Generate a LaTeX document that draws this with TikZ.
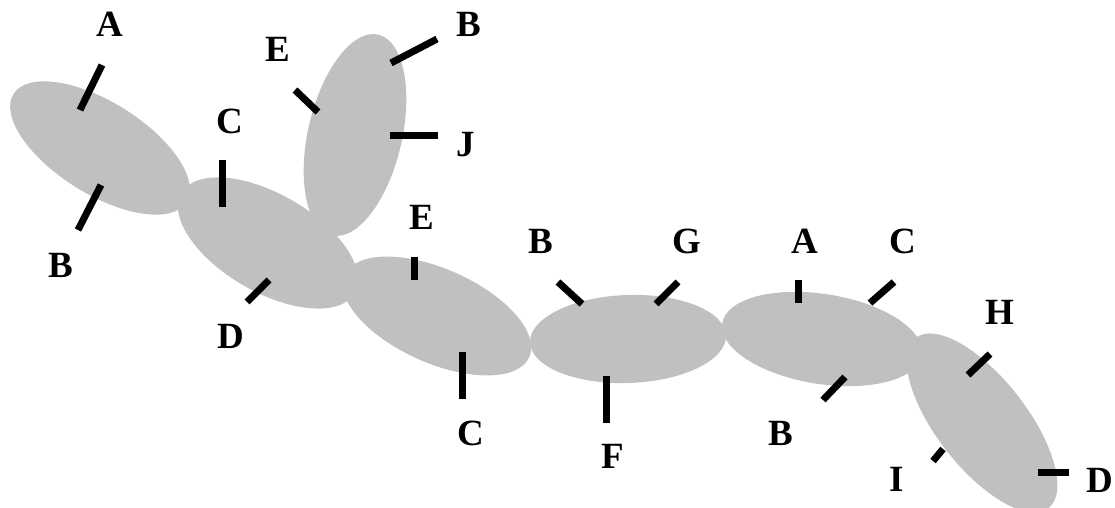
\documentclass[tikz,border=0pt]{standalone}
\usepackage{fontspec}
\setmainfont{Liberation Serif}
\begin{document}
\begin{tikzpicture}[x=1pt,y=-1pt,
  segment/.style={fill={rgb,255:red,192;green,192;blue,192}},
  tick/.style={line width=7pt,line cap=butt},
  lbl/.style={anchor=base,inner sep=0pt,font=\fontsize{37}{37}\selectfont\bfseries}]
\useasboundingbox (0,0) rectangle (1115,508);

% chain of segments
\fill[segment,rotate around={-32:(100,148)}] (100,148) ellipse [x radius=102pt,y radius=46pt];
\fill[segment,rotate around={-30:(268,243)}] (268,243) ellipse [x radius=100pt,y radius=49pt];
\fill[segment,rotate around={77:(355,135)}] (355,135) ellipse [x radius=103pt,y radius=47pt];
\fill[segment,rotate around={-24:(437,316)}] (437,316) ellipse [x radius=101pt,y radius=47pt];
\fill[segment,rotate around={2:(628,339)}] (628,339) ellipse [x radius=98pt,y radius=44pt];
\fill[segment,rotate around={-9:(822,339)}] (822,339) ellipse [x radius=101pt,y radius=45pt];
\fill[segment,rotate around={-52:(982,423)}] (982,423) ellipse [x radius=108pt,y radius=45pt];

% labels
\node[lbl] (a1) at (110,37) {A};
\node[lbl] (b1) at (61,277) {B};
\node[lbl] (c1) at (230,133) {C};
\node[lbl] (d1) at (231,348) {D};
\node[lbl] (e1) at (278,62) {E};
\node[lbl] (b2) at (469,37) {B};
\node[lbl] (j1) at (466,156) {J};
\node[lbl] (e2) at (422,229) {E};
\node[lbl] (c2) at (471,445) {C};
\node[lbl] (b3) at (541,253) {B};
\node[lbl] (g1) at (687,253) {G};
\node[lbl] (f1) at (613,468) {F};
\node[lbl] (a2) at (805,253) {A};
\node[lbl] (c3) at (903,253) {C};
\node[lbl] (b4) at (781,445) {B};
\node[lbl] (h1) at (1000,324) {H};
\node[lbl] (i1) at (897,491) {I};
\node[lbl] (d2) at (1100,492) {D};

% ticks
\coordinate (ta1a) at (80,110);   \coordinate (ta1b) at (102,65);
\coordinate (tb1a) at (101,185);  \coordinate (tb1b) at (78,230);
\coordinate (tc1a) at (222,160);  \coordinate (tc1b) at (222,207);
\coordinate (td1a) at (269,280);  \coordinate (td1b) at (247,302);
\coordinate (te1a) at (295,90);   \coordinate (te1b) at (318,112);
\coordinate (tb2a) at (391,63);   \coordinate (tb2b) at (437,39);
\coordinate (tj1a) at (390,135);  \coordinate (tj1b) at (438,135);
\coordinate (te2a) at (414,257);  \coordinate (te2b) at (414,280);
\coordinate (tc2a) at (462,352);  \coordinate (tc2b) at (462,399);
\coordinate (tb3a) at (558,282);  \coordinate (tb3b) at (582,304);
\coordinate (tg1a) at (656,304);  \coordinate (tg1b) at (678,282);
\coordinate (tf1a) at (606,376);  \coordinate (tf1b) at (606,423);
\coordinate (ta2a) at (798,280);  \coordinate (ta2b) at (798,303);
\coordinate (tc3a) at (870,303);  \coordinate (tc3b) at (894,282);
\coordinate (tb4a) at (845,377);  \coordinate (tb4b) at (823,400);
\coordinate (th1a) at (968,375);  \coordinate (th1b) at (990,354);
\coordinate (ti1a) at (943,449);  \coordinate (ti1b) at (933,461);
\coordinate (td2a) at (1038,472); \coordinate (td2b) at (1069,472);

\foreach \t in {a1,b1,c1,d1,e1,b2,j1,e2,c2,b3,g1,f1,a2,c3,b4,h1,i1,d2}
  \draw[tick] (t\t a) -- (t\t b);
\end{tikzpicture}
\end{document}
